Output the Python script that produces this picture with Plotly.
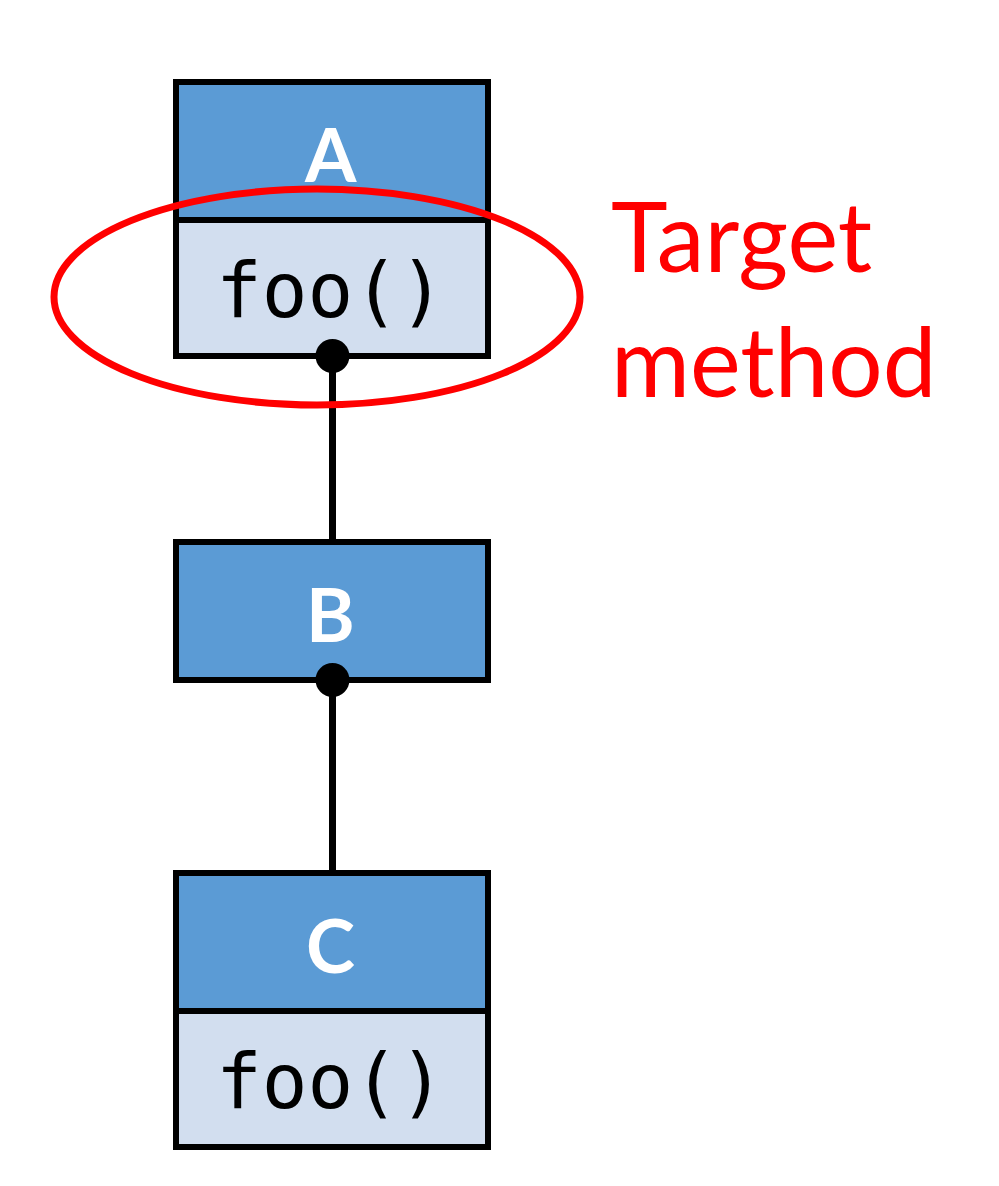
import plotly.graph_objects as go

# Class hierarchy: A <- B <- C, with the method each class declares
class_names = ["A", "B", "C"]
class_methods = ["foo()", None, "foo()"]
note_text = "Target<br>method"

W, H = 999, 1186
OFF = 8  # page body margin of the browser
BOX_X0, BOX_X1 = 176, 488
HEAD_H, METH_H = 138, 136
box_tops = [82, 542, 873]
mid_x = (BOX_X0 + BOX_X1) / 2 + 0.5

HEAD_FILL = "#5B9BD5"
METH_FILL = "#D2DEEF"
RED = "#FF0000"

fig = go.Figure()
shapes = []
annotations = []
bottoms = []

for name, method, top in zip(class_names, class_methods, box_tops):
    shapes.append(dict(type="rect", x0=BOX_X0, x1=BOX_X1, y0=top, y1=top + HEAD_H,
                       fillcolor=HEAD_FILL, line=dict(color="black", width=6)))
    annotations.append(dict(x=mid_x - 2, y=top + HEAD_H / 2 + 2, text="<b>%s</b>" % name,
                            showarrow=False, xanchor="center", yanchor="middle",
                            font=dict(family="Lato", size=74, color="white")))
    bottom = top + HEAD_H
    if method:
        shapes.append(dict(type="rect", x0=BOX_X0, x1=BOX_X1, y0=bottom, y1=bottom + METH_H,
                           fillcolor=METH_FILL, line=dict(color="black", width=6)))
        annotations.append(dict(x=mid_x - 2, y=bottom + METH_H / 2 + 2, text=method,
                                showarrow=False, xanchor="center", yanchor="middle",
                                font=dict(family="DejaVu Sans Mono", size=76, color="black")))
        bottom += METH_H
    bottoms.append(bottom)

# inheritance connectors with a dot at the parent end
for i in range(len(class_names) - 1):
    shapes.append(dict(type="line", x0=mid_x, x1=mid_x, y0=bottoms[i], y1=box_tops[i + 1],
                       line=dict(color="black", width=7)))
    r = 17
    shapes.append(dict(type="circle", x0=mid_x - r, x1=mid_x + r,
                       y0=bottoms[i] - r, y1=bottoms[i] + r,
                       fillcolor="black", line=dict(color="black", width=0)))

# ellipse highlighting the target method
shapes.append(dict(type="circle", x0=54, x1=580, y0=189, y1=405,
                   line=dict(color=RED, width=7), fillcolor="rgba(0,0,0,0)"))

annotations.append(dict(x=609, y=297, text=note_text, showarrow=False,
                        xanchor="left", yanchor="middle", align="left",
                        font=dict(family="Lato", size=96, color=RED)))

# invisible trace so the axes exist
fig.add_trace(go.Scatter(x=[0, W], y=[0, H], mode="markers",
                         marker=dict(opacity=0), hoverinfo="skip", showlegend=False))

fig.update_layout(
    width=W, height=H,
    margin=dict(l=0, r=0, t=0, b=0),
    paper_bgcolor="white", plot_bgcolor="white",
    xaxis=dict(range=[OFF, W + OFF], visible=False, fixedrange=True),
    yaxis=dict(range=[H + OFF, OFF], visible=False, fixedrange=True),
    shapes=shapes, annotations=annotations,
)

fig.write_html("out.html")
